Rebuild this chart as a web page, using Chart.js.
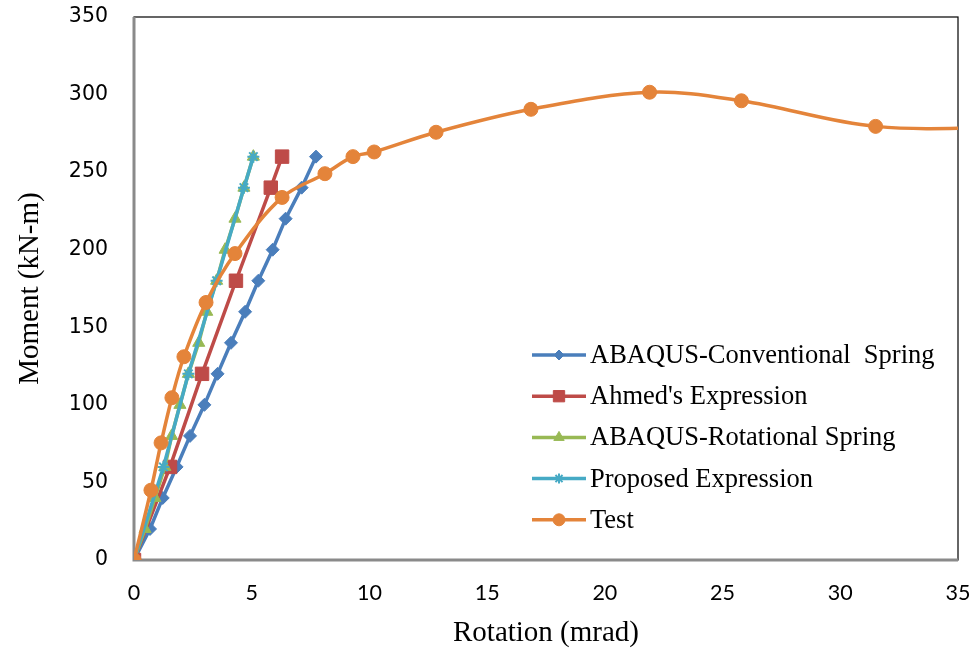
<!DOCTYPE html>
<html>
<head>
<meta charset="utf-8">
<script src="https://cdn.jsdelivr.net/npm/chart.js@4.4.1/dist/chart.umd.min.js"></script>
<style>
  html, body { margin: 0; padding: 0; background: #fff; }
  #wrap { width: 977px; height: 654px; position: relative; }
</style>
</head>
<body>
<div id="wrap"><canvas id="c" width="977" height="654"></canvas></div>
<script>
// ---- Data (rotation in mrad, moment in kN-m) ----
const seriesNames = ["ABAQUS-Conventional  Spring", "Ahmed's Expression", "ABAQUS-Rotational Spring", "Proposed Expression", "Test"];

const conventionalRot = [0, 0.68, 1.22, 1.81, 2.38, 2.99, 3.55, 4.12, 4.72, 5.28, 5.89, 6.44, 7.12, 7.73];
const conventionalMom = [0, 20, 40, 60, 80, 100, 120, 140, 160, 180, 200, 220, 240, 260];

const ahmedRot = [0, 1.53, 2.89, 4.33, 5.81, 6.29];
const ahmedMom = [0, 60, 120, 180, 240, 260];

const rotationalRot = [0, 0.47, 0.89, 1.31, 1.6, 1.95, 2.31, 2.75, 3.09, 3.51, 3.87, 4.29, 4.67, 5.07];
const rotationalMom = [0, 20, 40, 60, 80, 100, 120, 140, 160, 180, 200, 220, 240, 260];

const proposedRot = [0, 1.25, 2.31, 3.51, 4.67, 5.07];
const proposedMom = [0, 60, 120, 180, 240, 260];

const testRot = [0, 0.72, 1.15, 1.61, 2.12, 3.06, 4.29, 6.29, 8.11, 9.3, 10.2, 12.83, 16.86, 21.9, 25.8, 31.5, 38];
const testMom = [0, 45, 75.5, 104.6, 131, 166, 197.5, 233.7, 249, 260, 263, 275.7, 290.5, 301.5, 296, 279.5, 279];

const xTicks = [0, 5, 10, 15, 20, 25, 30, 35];
const yTicks = [0, 50, 100, 150, 200, 250, 300, 350];

// ---- Styles ----
const colors = ["#4A7EBB", "#BE4B48", "#98B954", "#46AAC5", "#E4843A"];
const pts = (xs, ys) => xs.map((x, i) => ({ x: x, y: ys[i] }));

const datasets = [
  { label: seriesNames[0], data: pts(conventionalRot, conventionalMom), borderColor: colors[0], backgroundColor: colors[0],
    pointStyle: 'rectRot', pointRadius: 6.5, legendRadius: 5, order: 5 },
  { label: seriesNames[1], data: pts(ahmedRot, ahmedMom), borderColor: colors[1], backgroundColor: colors[1],
    pointStyle: 'rect', pointRadius: 9.5, legendRadius: 8, order: 4 },
  { label: seriesNames[2], data: pts(rotationalRot, rotationalMom), borderColor: colors[2], backgroundColor: colors[2],
    pointStyle: 'triangle', pointRadius: 7, legendRadius: 6, order: 3 },
  { label: seriesNames[3], data: pts(proposedRot, proposedMom), borderColor: colors[3], backgroundColor: colors[3],
    pointStyle: 'star', pointRadius: 6, legendRadius: 5, pointBorderWidth: 2, order: 2 },
  { label: seriesNames[4], data: pts(testRot, testMom), borderColor: colors[4], backgroundColor: colors[4],
    pointStyle: 'circle', pointRadius: 7, legendRadius: 6, tension: 0.35, order: 1 }
].map(d => Object.assign({ showLine: true, borderWidth: 3.5, pointBorderWidth: d.pointBorderWidth || 1,
  pointBorderColor: d.borderColor, pointBackgroundColor: d.backgroundColor, tension: d.tension || 0 }, d));

const framePlugin = {
  id: 'frame',
  beforeDatasetsDraw(chart) {
    const { ctx, chartArea: a } = chart;
    ctx.save();
    ctx.strokeStyle = '#000';
    ctx.lineWidth = 1.2;
    ctx.strokeRect(a.left, a.top, a.right - a.left, a.bottom - a.top);
    ctx.strokeStyle = '#8a8a8a';
    ctx.lineWidth = 3;
    ctx.beginPath();
    ctx.moveTo(a.left, a.top);
    ctx.lineTo(a.left, a.bottom);
    ctx.lineTo(a.right, a.bottom);
    ctx.stroke();
    ctx.restore();
  }
};

const legendPlugin = {
  id: 'customLegend',
  afterDatasetsDraw(chart) {
    const { ctx, chartArea: a } = chart;
    const x0 = a.left + 398, x1 = a.left + 452, tx = a.left + 456;
    const y0 = a.top + 338, dy = 41.2;
    ctx.save();
    chart.data.datasets.forEach((ds, i) => {
      const y = y0 + i * dy;
      ctx.strokeStyle = ds.borderColor;
      ctx.lineWidth = 3.5;
      ctx.beginPath();
      ctx.moveTo(x0, y);
      ctx.lineTo(x1, y);
      ctx.stroke();
      ctx.fillStyle = ds.backgroundColor;
      ctx.strokeStyle = ds.borderColor;
      ctx.lineWidth = ds.pointBorderWidth;
      Chart.helpers.drawPoint(ctx, { pointStyle: ds.pointStyle, radius: ds.legendRadius, borderWidth: ds.pointBorderWidth, rotation: 0 }, (x0 + x1) / 2, y);
      ctx.fillStyle = '#000';
      ctx.font = '26.5px "Liberation Serif", "Times New Roman", serif';
      ctx.textBaseline = 'middle';
      ctx.textAlign = 'left';
      ctx.fillText(ds.label, tx, y + 1);
    });
    ctx.restore();
  }
};

new Chart(document.getElementById('c'), {
  type: 'scatter',
  data: { datasets: datasets },
  plugins: [framePlugin, legendPlugin],
  options: {
    responsive: false,
    animation: false,
    layout: { padding: { top: 17, right: 19, left: 0, bottom: 0 } },
    plugins: { legend: { display: false }, tooltip: { enabled: false } },
    scales: {
      x: {
        type: 'linear', min: 0, max: 35,
        afterBuildTicks: s => { s.ticks = xTicks.map(v => ({ value: v })); },
        afterFit: s => { s.height = 94; s.paddingLeft = 0; s.paddingRight = 0; },
        grid: { display: false, drawTicks: false },
        border: { display: false },
        ticks: { padding: 20, color: '#000', font: { family: 'Lato, "Open Sans", sans-serif', size: 21.5 } },
        title: { display: true, text: 'Rotation (mrad)', color: '#000', padding: { top: 0, bottom: 3 },
          font: { family: '"Liberation Serif", "Times New Roman", serif', size: 29 } }
      },
      y: {
        type: 'linear', min: 0, max: 350,
        afterBuildTicks: s => { s.ticks = yTicks.map(v => ({ value: v })); },
        afterFit: s => { s.width = 134; s.paddingTop = 0; s.paddingBottom = 0; },
        grid: { display: false, drawTicks: false },
        border: { display: false },
        ticks: { padding: 26, color: '#000', font: { family: '"DejaVu Sans", sans-serif', size: 20.5 } },
        title: { display: true, text: 'Moment (kN-m)', color: '#000', padding: { top: 13, bottom: 0 },
          font: { family: '"Liberation Serif", "Times New Roman", serif', size: 29 } }
      }
    }
  }
});
</script>
</body>
</html>
